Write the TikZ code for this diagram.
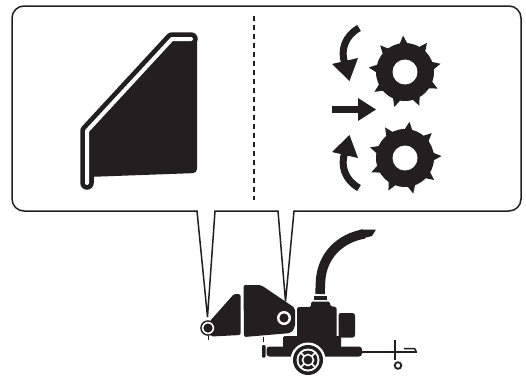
\documentclass[tikz,border=0pt]{standalone}
\usetikzlibrary{calc}
\definecolor{ink}{HTML}{231F20}
\begin{document}
\begin{tikzpicture}[x=1pt,y=-1pt,
  outline/.style={draw=ink,line width=1.5pt,line join=round,line cap=round},
  pics/gear/.style={code={
    \fill[ink] (0,0) circle[radius=29];
    \foreach \k in {0,...,8}{
      \pgfmathsetmacro\ga{#1+40*\k}
      \pgfmathsetmacro\gl{\ga-10}
      \pgfmathsetmacro\gr{\ga+10}
      \fill[ink] (\gl:27) -- (\ga:36.5) -- (\gr:27) -- cycle;
    }
    \fill[white] (0,0) circle[radius=12.5];
  }}]
\useasboundingbox (0,0) rectangle (526,376);
\fill[white] (0,0) rectangle (526,376);

% callout frame with its two pointers
\coordinate (tipA) at (207.5,317);
\coordinate (tipB) at (285.5,301.5);
\draw[outline,rounded corners=12pt] (197,211) -- (12,211) -- (12,6) -- (521,6) -- (521,211) -- (294,211);
\draw[outline,line join=miter] (294,211) -- (tipB) -- (278,211) -- (215,211) -- (tipA) -- (197,211);

% divider
\draw[ink,line width=1.3pt,dash pattern=on 5pt off 4pt] (254,16) -- (254,200);

% feed tray icon
\fill[ink,rounded corners=4pt] (87,133) -- (172,39) -- (197,39) -- (197,173) -- (87,177) -- cycle;
\draw[ink,line width=13.5pt,line cap=round,line join=round] (87,183) -- (87,131) -- (172,39) -- (191,39);
\draw[white,line width=4pt,line cap=round,line join=round] (87,183) -- (87,131) -- (172,39) -- (191,39);

% feed direction arrows
\fill[ink] (332,106) rectangle (359,113);
\fill[ink] (358,98) -- (376,109.5) -- (358,121) -- cycle;
\draw[ink,line width=7pt] (359,28) .. controls (345,36) and (340,50) .. (345,64);
\fill[ink] (332,64) -- (358,58) -- (349.5,81) -- cycle;
\draw[ink,line width=7pt] (359,188) .. controls (345,180) and (340,166) .. (345,152);
\fill[ink] (332,152) -- (358,158) -- (349.5,135) -- cycle;

% feed rollers
\pic at (405,72) {gear=-93};
\pic at (405,158) {gear=-83};

% chipper: infeed hopper
\fill[ink,rounded corners=1.5pt] (210,321) -- (234,294) -- (240.5,294) -- (240.5,335) -- (211,336.5) -- cycle;
\fill[ink] (208,328) circle[radius=7.8];
\fill[white] (208,328) circle[radius=6.2];
\fill[ink] (208,328) circle[radius=4.6];
\draw[ink,line width=1pt] (208,336) -- (208,340);

% chipper: feed chute housing
\fill[ink,rounded corners=2pt] (243.5,285) -- (261,285) -- (295,308) -- (295,327) -- (291,333) -- (244,337) -- cycle;
\fill[white] (284,318) circle[radius=7];
\fill[ink] (284,318) circle[radius=4.6];

% chipper: engine, collar and discharge chute
\fill[ink,rounded corners=1.5pt] (297,339) -- (297,307) -- (311,307) -- (311,301.5) -- (330,301.5) -- (330,306) -- (336.5,307) -- (336.5,339) -- cycle;
\fill[ink] (313.5,295.5) rectangle (327,299.5);
\draw[ink,line width=9.5pt] (320,294) -- (320.5,282) .. controls (321.5,256) and (340,238) .. (364,234);
\fill[ink] (360,229.5) -- (376,229.5) -- (372,236) -- (362,238.5) -- cycle;
\fill[ink,rounded corners=2.5pt] (338.5,313) rectangle (355,337.5);

% chipper: base and trailer frame
\fill[ink,rounded corners=1.5pt] (283,336) rectangle (341,348);
\fill[ink,rounded corners=3pt] (266.5,346.5) rectangle (362,356.5);
\draw[ink,line width=1pt] (263.5,336.5) -- (263.5,342);
\fill[ink,rounded corners=1pt] (262,345) rectangle (265.5,357.5);

% wheel
\fill[white] (308,360) circle[radius=17.5];
\fill[ink] (308,360) circle[radius=15];
\fill[white] (308,360) circle[radius=11.5];
\fill[ink] (308,360) circle[radius=9.5];
\draw[white,line width=1.6pt] (308,360) circle[radius=5.5];
\foreach \t in {45,135,225,315}
  \draw[white,line width=1.6pt] (308,360) ++(\t:5.5) -- ++(\t:4.5);

% tow bar, jack and hitch
\draw[ink,line width=2pt] (361,352) -- (417,352);
\draw[ink,line width=2.2pt] (395,340) -- (395,360);
\draw[ink,line width=1.8pt] (398,365.5) circle[radius=3.3];
\draw[ink,line width=1.5pt] (404,348.5) -- (414.5,348.5) -- (416,351);
\end{tikzpicture}
\end{document}
